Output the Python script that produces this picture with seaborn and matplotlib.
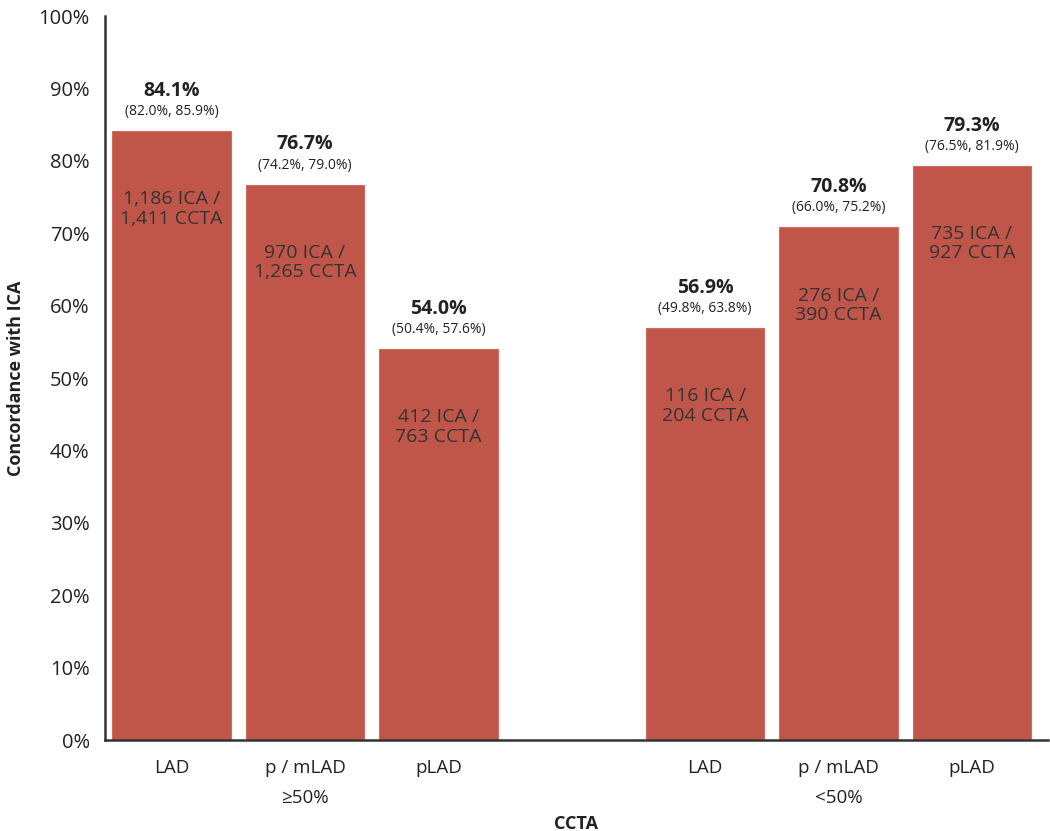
import pandas as pd
import matplotlib
matplotlib.use('Agg')
import matplotlib.pyplot as plt
import seaborn as sns

# data
segments = ['LAD', 'p / mLAD', 'pLAD', 'LAD', 'p / mLAD', 'pLAD']
groups = ['≥50%', '<50%']
positions = [0, 1, 2, 4, 5, 6]
concordance = [84.1, 76.7, 54.0, 56.9, 70.8, 79.3]
ci_low = [82.0, 74.2, 50.4, 49.8, 66.0, 76.5]
ci_high = [85.9, 79.0, 57.6, 63.8, 75.2, 81.9]
ica_n = ['1,186', '970', '412', '116', '276', '735']
ccta_n = ['1,411', '1,265', '763', '204', '390', '927']

df = pd.DataFrame({'pos': positions, 'concordance': concordance, 'segment': segments})

sns.set_style('white')
plt.rcParams['font.family'] = ['Open Sans', 'DejaVu Sans']
plt.rcParams['text.color'] = '#222222'

bar_color = '#C0564A'
dark = '#222222'

fig = plt.figure(figsize=(10.5, 8.31), dpi=100)
ax = fig.add_axes([0.1, 0.1095, 0.898, 0.8712])

sns.barplot(data=df, x='pos', y='concordance', native_scale=True, width=0.89,
            color=bar_color, saturation=1, edgecolor='#D46A5E', linewidth=0.8, ax=ax)

ax.set_ylim(0, 100)
ax.set_xlim(-0.5, 6.57)
ax.set_yticks(range(0, 101, 10))
ax.set_yticklabels([f'{v}%' for v in range(0, 101, 10)], fontsize=14.5, color=dark)
ax.set_xticks(positions)
ax.set_xticklabels(segments, fontsize=13.5, color=dark)
ax.tick_params(axis='y', length=7, width=1.5, color='#333333', pad=4)
ax.tick_params(axis='x', length=0, pad=14)

for side in ['top', 'right']:
    ax.spines[side].set_visible(False)
for side in ['left', 'bottom']:
    ax.spines[side].set_color('#333333')
    ax.spines[side].set_linewidth(1.8)

# group labels under the tick labels
for gx, g in zip([1, 5], groups):
    ax.annotate(g, xy=(gx, 0), xycoords=('data', 'axes fraction'), xytext=(0, -42),
                textcoords='offset points', ha='center', va='center', fontsize=13.5, color=dark)

ax.set_xlabel('CCTA', fontsize=13, fontweight='bold', color=dark, labelpad=27)
ax.set_ylabel('Concordance with ICA', fontsize=13, fontweight='bold', color=dark, labelpad=10)

for x, v, lo, hi, a, c in zip(positions, concordance, ci_low, ci_high, ica_n, ccta_n):
    ax.annotate(f'{v:.1f}%', xy=(x, v), xytext=(0, 29), textcoords='offset points',
                ha='center', va='center', fontsize=14, fontweight='bold', color=dark)
    ax.annotate(f'({lo:.1f}%, {hi:.1f}%)', xy=(x, v), xytext=(0, 14), textcoords='offset points',
                ha='center', va='center', fontsize=10, color=dark)
    ax.annotate(f'{a} ICA /\n{c} CCTA', xy=(x, v), xytext=(0, -56), textcoords='offset points',
                ha='center', va='center', fontsize=14, color='#333333', linespacing=1.1)

fig.savefig('out.png', dpi=100)
